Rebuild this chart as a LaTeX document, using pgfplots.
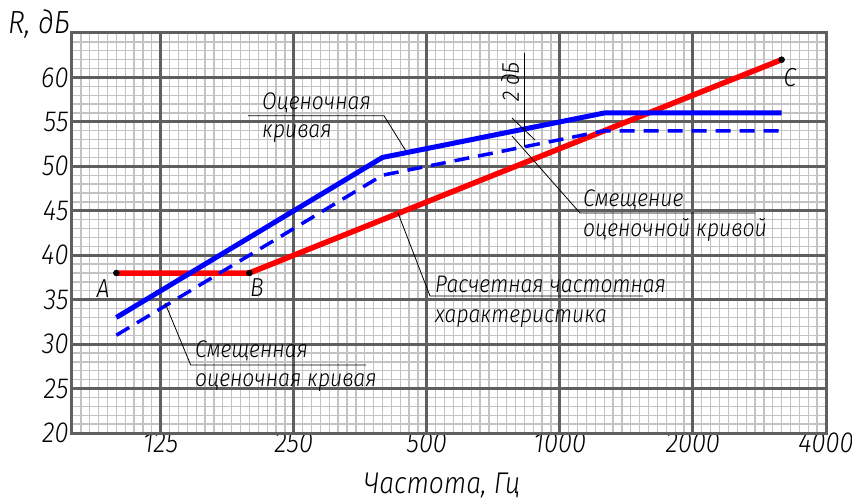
\documentclass[border=0pt]{standalone}
\usepackage{pgfplots}
\pgfplotsset{compat=1.18}
\usepackage{fontspec}
\setmainfont{Fira Sans Light}[ItalicFont={Fira Sans Light Italic}, FakeStretch=0.88]
\definecolor{majg}{RGB}{95,95,95}
\definecolor{ming}{RGB}{195,195,195}
\begin{document}
\begin{tikzpicture}[x=1pt,y=1pt]
\path[use as bounding box] (-72,-68) rectangle (780,433);
\begin{axis}[at={(0,0)}, anchor=south west, scale only axis,
  width=754pt, height=400pt,
  xmin=-10, xmax=75, ymin=20, ymax=65,
  xtick={-10,...,75}, ytick={20,...,65},
  xticklabel={\relax}, yticklabel={\relax},
  grid=major,
  major grid style={draw=ming, line width=1.3pt},
  extra x ticks={0,15,30,45,60,75},
  extra x tick labels={125,250,500,1000,2000,4000},
  extra y ticks={20,25,30,35,40,45,50,55,60},
  extra y tick labels={20,25,30,35,40,45,50,55,60},
  extra x tick style={major grid style={draw=majg, line width=3pt}},
  extra y tick style={major grid style={draw=majg, line width=3pt}},
  axis line style={draw=majg, line width=3pt},
  major tick length=0pt, minor tick length=0pt,
  /pgf/number format/assume math mode=true,
  ticklabel style={font=\fontsize{29}{30}\selectfont\itshape},
  xticklabel style={yshift=4pt},
  clip=false]
\addplot[draw=red, line width=5.5pt, line join=round] coordinates {(-5,38) (10,38) (70,62)};
\addplot[draw=blue, line width=5pt, line join=round] coordinates {(-5,33) (25,51) (50,56) (70,56)};
\addplot[draw=blue, line width=3.5pt, dash pattern=on 15pt off 9pt] coordinates {(-5,31) (25,49) (50,54) (70,54)};
\addplot[only marks, mark=*, mark size=3pt, black] coordinates {(-5,38) (10,38) (70,62)};
\end{axis}
\tikzset{lbl/.style={font=\fontsize{24}{26}\selectfont\itshape, inner sep=0pt, anchor=base west}}
% axis titles
\node[font=\fontsize{32}{34}\selectfont\itshape, inner sep=0pt] at (-33,409) {R, дБ};
\node[font=\fontsize{30}{32}\selectfont\itshape, inner sep=0pt, anchor=base] at (370,-60) {Частота, Гц};
% point labels
\node[font=\fontsize{26}{28}\selectfont\itshape, inner sep=0pt] at (31,144) {A};
\node[font=\fontsize{26}{28}\selectfont\itshape, inner sep=0pt] at (185,145) {B};
\node[font=\fontsize{26}{28}\selectfont\itshape, inner sep=0pt] at (718,355) {C};
% annotations
\draw[line width=0.8pt] (176,317.3) -- (312,317.3) -- (333.7,282.3);
\node[lbl] at (190,323) {Оценочная};
\node[lbl] at (190,295) {кривая};
\draw[line width=0.8pt] (93,130) -- (118.7,68) -- (294,68);
\node[lbl] at (123,75) {Смещенная};
\node[lbl] at (123,46) {оценочная кривая};
\draw[line width=0.8pt] (326,220) -- (358,137) -- (571,137);
\node[lbl] at (363,140) {Расчетная частотная};
\node[lbl] at (363,110) {характеристика};
\draw[line width=0.8pt] (440,297) -- (508,220) -- (683,220);
\node[lbl] at (511,226) {Смещение};
\node[lbl] at (511,196) {оценочной кривой};
\draw[line width=0.8pt] (440,315) -- (463,293);
\draw[line width=0.8pt] (452,380) -- (452,286);
\node[font=\fontsize{24}{26}\selectfont\itshape, inner sep=0pt, rotate=90] at (438,351) {2 дБ};
\end{tikzpicture}
\end{document}
